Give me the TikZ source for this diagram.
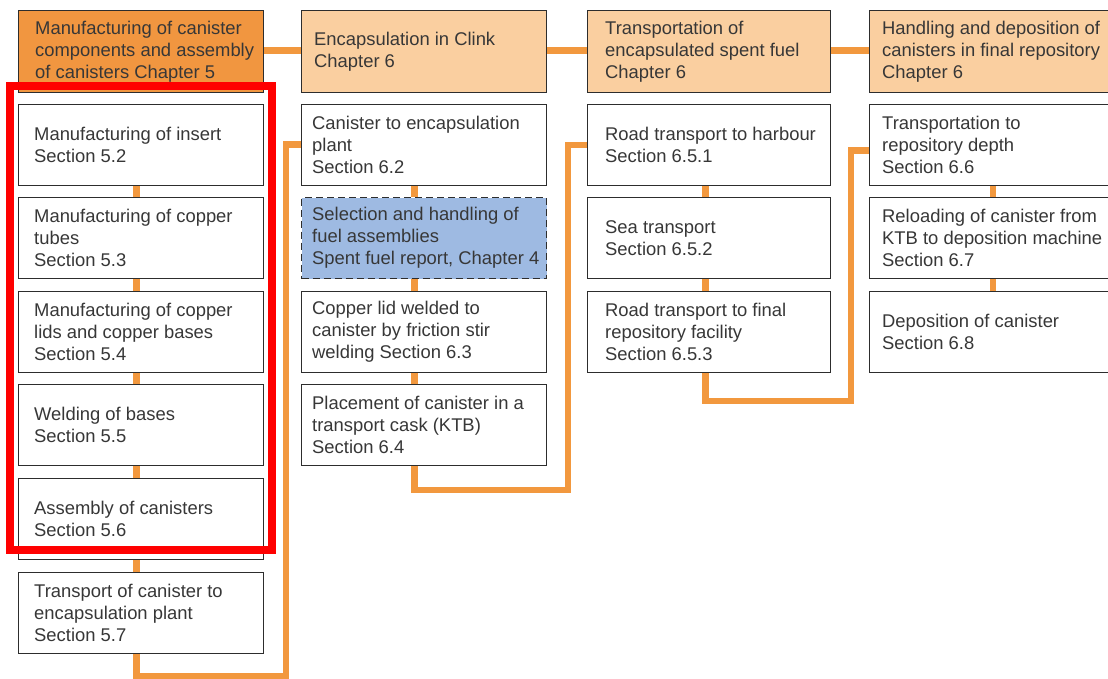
\documentclass[tikz,border=0pt]{standalone}
\usepackage{fontspec}
\setmainfont{Liberation Sans}
\definecolor{hdrdark}{RGB}{241,150,64}
\definecolor{hdrlight}{RGB}{250,207,160}
\definecolor{selblue}{RGB}{158,186,226}
\definecolor{linkorange}{RGB}{242,152,62}
\definecolor{boxline}{RGB}{45,45,45}
\definecolor{txt}{RGB}{55,55,55}
\definecolor{markred}{RGB}{255,0,0}
\tikzset{
  box/.style={draw=boxline, line width=1.3pt, rectangle, anchor=north west,
    minimum height=81pt, inner sep=0pt},
  colA/.style={box, minimum width=245pt},
  colB/.style={box, minimum width=245pt},
  colC/.style={box, minimum width=243pt},
  colD/.style={box, minimum width=250pt},
  hdrA/.style={colA, fill=hdrdark, minimum height=82pt},
  hdrB/.style={colB, fill=hdrlight, minimum height=82pt},
  hdrC/.style={colC, fill=hdrlight, minimum height=82pt},
  hdrD/.style={colD, fill=hdrlight, minimum height=82pt},
  refbox/.style={colB, fill=selblue, dash pattern=on 7pt off 4pt},
  lbl/.style={anchor=west, align=left, inner sep=0pt, text=txt,
    font=\fontsize{18.4}{22}\selectfont},
  tA/.style={lbl, xshift=16pt},
  tAh/.style={lbl, xshift=17pt},
  tB/.style={lbl, xshift=11pt},
  tBh/.style={lbl, xshift=13pt},
  tC/.style={lbl, xshift=18pt},
  tD/.style={lbl, xshift=13pt},
  link/.style={draw=linkorange, line width=6.5pt},
  marker/.style={draw=markred, line width=8.5pt}
}
\begin{document}
\begin{tikzpicture}[x=1pt,y=-1pt]
\fill[white] (0,0) rectangle (1108,679);
\clip (0,0) rectangle (1108,679);

% Chapter headers
\node[hdrA, label={[tAh]west:{Manufacturing of canister\\components and assembly\\of canisters Chapter 5}}] (h1) at (18,10) {};
\node[hdrB, label={[tBh]west:{Encapsulation in Clink\\Chapter 6}}] (h2) at (301,10) {};
\node[hdrC, label={[tC]west:{Transportation of\\encapsulated spent fuel\\Chapter 6}}] (h3) at (587,10) {};
\node[hdrD, label={[tD]west:{Handling and deposition of\\canisters in final repository\\Chapter 6}}] (h4) at (869,10) {};

% Chapter 5 steps
\node[colA, label={[tA]west:{Manufacturing of insert\\Section 5.2}}] (c1b1) at (18,104) {};
\node[colA, label={[tA]west:{Manufacturing of copper\\tubes\\Section 5.3}}] (c1b2) at (18,197) {};
\node[colA, label={[tA]west:{Manufacturing of copper\\lids and copper bases\\Section 5.4}}] (c1b3) at (18,291) {};
\node[colA, label={[tA]west:{Welding of bases\\Section 5.5}}] (c1b4) at (18,384) {};
\node[colA, label={[tA]west:{Assembly of canisters\\Section 5.6}}] (c1b5) at (18,478) {};
\node[colA, label={[tA]west:{Transport of canister to\\encapsulation plant\\Section 5.7}}] (c1b6) at (18,572) {};

% Encapsulation steps
\node[colB, label={[tB]west:{Canister to encapsulation\\plant\\Section 6.2}}] (c2b1) at (301,104) {};
\node[refbox, label={[tB]west:{Selection and handling of\\fuel assemblies\\Spent fuel report, Chapter 4}}] (c2b2) at (301,197) {};
\node[colB, label={[tB]west:{Copper lid welded to\\canister by friction stir\\welding Section 6.3}}] (c2b3) at (301,291) {};
\node[colB, label={[tB]west:{Placement of canister in a\\transport cask (KTB)\\Section 6.4}}] (c2b4) at (301,384) {};

% Transport steps
\node[colC, label={[tC]west:{Road transport to harbour\\Section 6.5.1}}] (c3b1) at (587,104) {};
\node[colC, label={[tC]west:{Sea transport\\Section 6.5.2}}] (c3b2) at (587,197) {};
\node[colC, label={[tC]west:{Road transport to final\\repository facility\\Section 6.5.3}}] (c3b3) at (587,291) {};

% Repository steps
\node[colD, label={[tD]west:{Transportation to\\repository depth\\Section 6.6}}] (c4b1) at (869,104) {};
\node[colD, label={[tD]west:{Reloading of canister from\\KTB to deposition machine\\Section 6.7}}] (c4b2) at (869,197) {};
\node[colD, label={[tD]west:{Deposition of canister\\Section 6.8}}] (c4b3) at (869,291) {};

% Header chain
\draw[link] ([yshift=1pt]h1.east) -- ([yshift=1pt]h2.west);
\draw[link] ([yshift=1pt]h2.east) -- ([yshift=1pt]h3.west);
\draw[link] ([yshift=1pt]h3.east) -- ([yshift=1pt]h4.west);

% Links within each column
\foreach \a/\b in {c1b1/c1b2, c1b2/c1b3, c1b3/c1b4, c1b4/c1b5, c1b5/c1b6}
  \draw[link] ([xshift=-4.5pt]\a.south) -- ([xshift=-4.5pt]\b.north);
\foreach \a/\b in {c2b1/c2b2, c2b2/c2b3, c2b3/c2b4}
  \draw[link] ([xshift=-9.5pt]\a.south) -- ([xshift=-9.5pt]\b.north);
\foreach \a/\b in {c3b1/c3b2, c3b2/c3b3}
  \draw[link] ([xshift=-3.5pt]\a.south) -- ([xshift=-3.5pt]\b.north);
\foreach \a/\b in {c4b1/c4b2, c4b2/c4b3}
  \draw[link] ([xshift=-1.5pt]\a.south) -- ([xshift=-1.5pt]\b.north);

% Links from the end of one column to the start of the next
\coordinate (k1) at (286,676);
\coordinate (k2) at (568,490);
\coordinate (k3) at (851,401);
\draw[link] ([xshift=-4.5pt]c1b6.south) |- (k1) |- ([yshift=0.5pt]c2b1.west);
\draw[link] ([xshift=-9.5pt]c2b4.south) |- (k2) |- (c3b1.west);
\draw[link] ([xshift=-3.5pt]c3b3.south) |- (k3) |- ([yshift=-5.5pt]c4b1.west);

% Highlight frame around sections 5.2 to 5.6
\coordinate (m1) at (10,86);
\coordinate (m2) at (272,550);
\draw[marker] (m1) rectangle (m2);
\end{tikzpicture}
\end{document}
